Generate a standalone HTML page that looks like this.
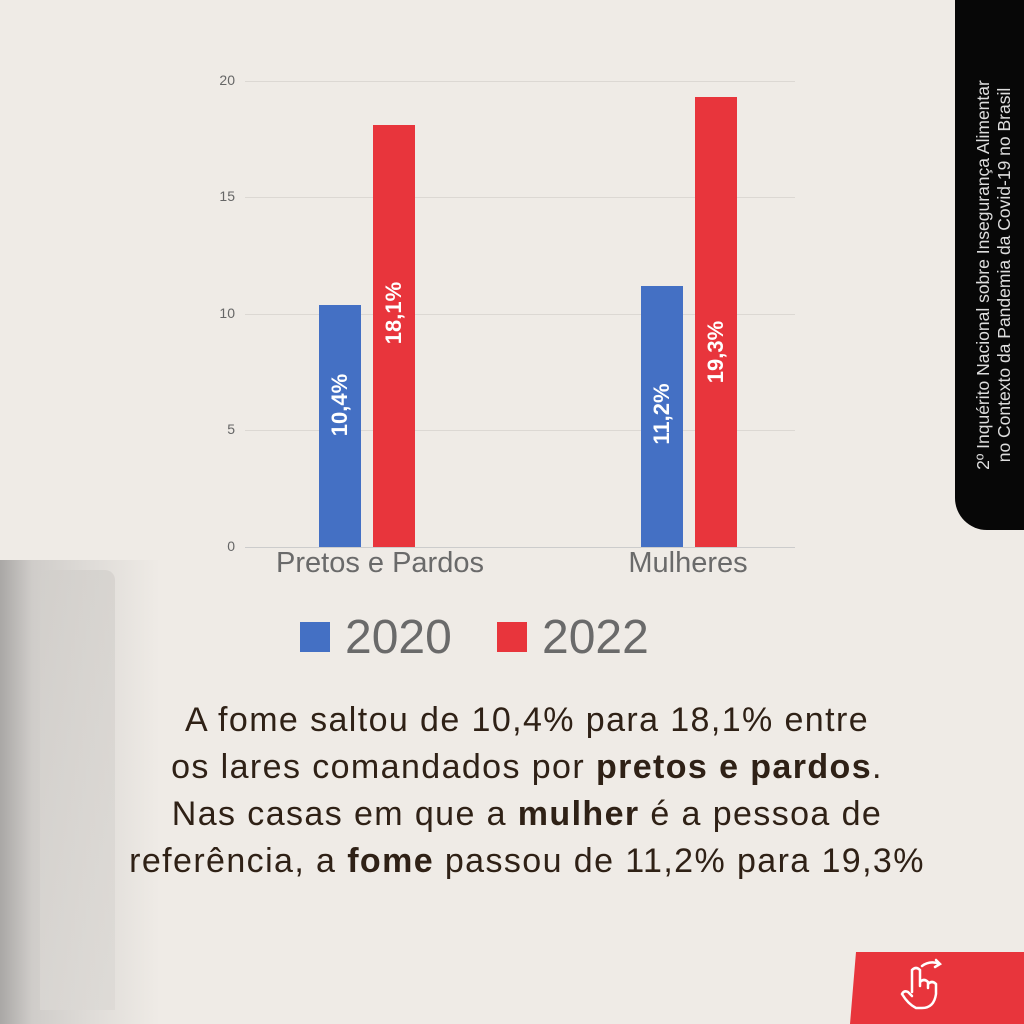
<!DOCTYPE html>
<html><head><meta charset="utf-8"><style>
body{margin:0;width:1024px;height:1024px;overflow:hidden;background:#efebe6;font-family:"Liberation Sans",sans-serif;position:relative}
.a{position:absolute}
.g{position:absolute;left:245px;width:550px;height:1px;background:#dcd8d3}
.t{position:absolute;left:205px;width:30px;text-align:right;font-size:14px;color:#666}
.bar{position:absolute;width:42px}
.bl{position:absolute;color:#fff;font-weight:bold;font-size:22px;transform:rotate(-90deg);white-space:nowrap;width:120px;text-align:center}
.p{position:absolute;left:0;width:1054px;text-align:center;font-size:34px;letter-spacing:1.4px;color:#2f2116;line-height:47px;top:697px}
</style></head><body>
<div class="a" style="left:0;top:560px;width:160px;height:464px;background:linear-gradient(90deg,#a9a7a5 0%,#cfccc9 20%,#dedbd7 55%,rgba(239,235,230,0) 100%)"></div>
<div class="a" style="left:40px;top:570px;width:75px;height:440px;border-radius:10px 10px 0 0;background:linear-gradient(180deg,#d2cfcb,#dbd8d4);opacity:.7"></div>
<div class="g" style="top:81px"></div><div class="g" style="top:197px"></div><div class="g" style="top:314px"></div><div class="g" style="top:430px"></div><div class="g" style="top:547px;background:#ccc"></div>
<div class="t" style="top:72px">20</div><div class="t" style="top:188px">15</div><div class="t" style="top:305px">10</div><div class="t" style="top:421px">5</div><div class="t" style="top:538px">0</div>
<div class="bar" style="left:319px;top:305px;height:242px;background:#4470c4"></div>
<div class="bar" style="left:373px;top:125px;height:422px;background:#e8353c"></div>
<div class="bar" style="left:641px;top:286px;height:261px;background:#4470c4"></div>
<div class="bar" style="left:695px;top:97px;height:450px;background:#e8353c"></div>
<div class="bl" style="left:280px;top:392px">10,4%</div>
<div class="bl" style="left:334px;top:300px">18,1%</div>
<div class="bl" style="left:602px;top:401px">11,2%</div>
<div class="bl" style="left:656px;top:339px">19,3%</div>
<div class="a" style="left:230px;top:547px;width:300px;text-align:center;font-size:29px;color:#6a6a6a">Pretos e Pardos</div>
<div class="a" style="left:588px;top:547px;width:200px;text-align:center;font-size:29px;color:#6a6a6a">Mulheres</div>
<div class="a" style="left:300px;top:622px;width:30px;height:30px;background:#4470c4"></div>
<div class="a" style="left:345px;top:610px;font-size:48px;color:#6a6a6a">2020</div>
<div class="a" style="left:497px;top:622px;width:30px;height:30px;background:#e8353c"></div>
<div class="a" style="left:542px;top:610px;font-size:48px;color:#6a6a6a">2022</div>
<div class="p">A fome saltou de 10,4% para 18,1% entre<br>os lares comandados por <b>pretos e pardos</b>.<br>Nas casas em que a <b>mulher</b> é a pessoa de<br>referência, a <b>fome</b> passou de 11,2% para 19,3%</div>
<div class="a" style="left:955px;top:0;width:69px;height:530px;background:#070707;border-bottom-left-radius:32px"></div>
<div class="a" style="left:994px;top:264px;width:500px;margin-left:-250px;margin-top:-10px;transform:rotate(-90deg);text-align:center;color:#ddd;font-size:17.5px;line-height:21px;white-space:nowrap">2º Inquérito Nacional sobre Insegurança Alimentar<br>no Contexto da Pandemia da Covid-19 no Brasil</div>
<svg class="a" style="left:850px;top:948px" width="174" height="76"><path d="M6 4 L174 4 L174 76 L0 76 Z" fill="#e8353c"/><g fill="none" stroke="#fff" stroke-width="2.5" stroke-linecap="round"><path d="M62 44 L62 22 Q66 18 70 22 L70 38 M70 34 Q74 30 78 34 L78 40 M78 36 Q82 32 86 36 L86 46 Q84 60 72 60 L66 60 Q58 56 52 46 Q54 42 58 44 L62 48"/><path d="M72 18 Q80 12 90 16 M86 12 L90 16 L85 19"/></g></svg>
</body></html>
